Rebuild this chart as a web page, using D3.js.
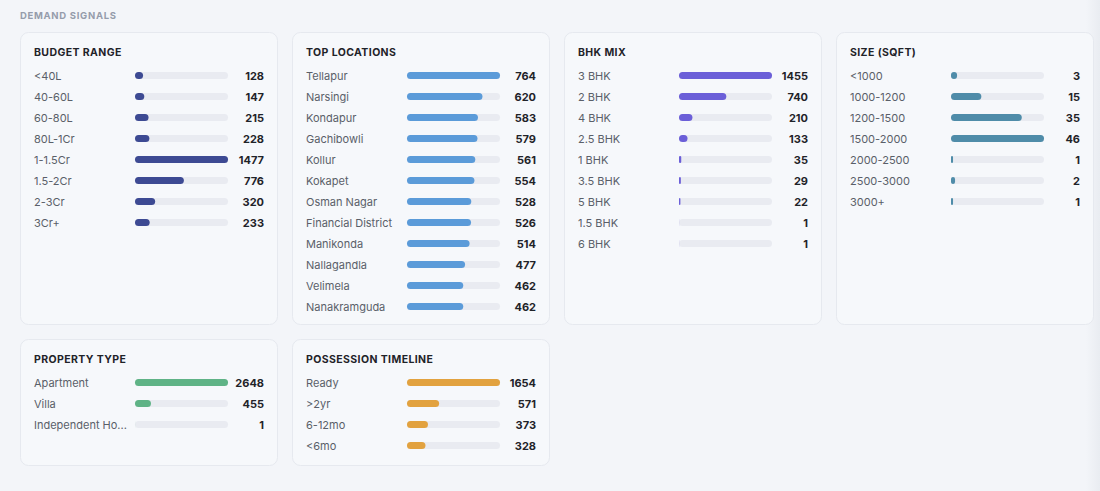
<!DOCTYPE html>
<html><head><meta charset="utf-8">
<script src="https://cdn.jsdelivr.net/npm/d3@7"></script>
<style>
html,body{margin:0;padding:0;background:#f3f5f9;}
svg{display:block;font-family:Inter,"Noto Sans",sans-serif;}
</style></head>
<body><svg id="c" width="1100" height="491"></svg>
<script>
const budgetLabels = ["<40L","40-60L","60-80L","80L-1Cr","1-1.5Cr","1.5-2Cr","2-3Cr","3Cr+"];
const budgetValues = [128,147,215,228,1477,776,320,233];
const locationLabels = ["Tellapur","Narsingi","Kondapur","Gachibowli","Kollur","Kokapet","Osman Nagar","Financial District","Manikonda","Nallagandla","Velimela","Nanakramguda"];
const locationValues = [764,620,583,579,561,554,528,526,514,477,462,462];
const bhkLabels = ["3 BHK","2 BHK","4 BHK","2.5 BHK","1 BHK","3.5 BHK","5 BHK","1.5 BHK","6 BHK"];
const bhkValues = [1455,740,210,133,35,29,22,1,1];
const sizeLabels = ["<1000","1000-1200","1200-1500","1500-2000","2000-2500","2500-3000","3000+"];
const sizeValues = [3,15,35,46,1,2,1];
const propertyLabels = ["Apartment","Villa","Independent House"];
const propertyValues = [2648,455,1];
const possessionLabels = ["Ready",">2yr","6-12mo","<6mo"];
const possessionValues = [1654,571,373,328];

const panels = [
  {title:"BUDGET RANGE", labels:budgetLabels, values:budgetValues, color:"#3d4a93", col:0, row:0},
  {title:"TOP LOCATIONS", labels:locationLabels, values:locationValues, color:"#5b9bd9", col:1, row:0},
  {title:"BHK MIX", labels:bhkLabels, values:bhkValues, color:"#6b5fd8", col:2, row:0},
  {title:"SIZE (SQFT)", labels:sizeLabels, values:sizeValues, color:"#4f8ca9", col:3, row:0},
  {title:"PROPERTY TYPE", labels:propertyLabels, values:propertyValues, color:"#5fb386", col:0, row:1},
  {title:"POSSESSION TIMELINE", labels:possessionLabels, values:possessionValues, color:"#e2a23f", col:1, row:1}
];

const svg = d3.select("#c");
const defs = svg.append("defs");
const g = defs.append("linearGradient").attr("id","edge").attr("x1","0").attr("x2","1");
g.append("stop").attr("offset","0").attr("stop-color","#f3f5f9");
g.append("stop").attr("offset","1").attr("stop-color","#e9ecf1");
svg.append("rect").attr("x",1086).attr("y",0).attr("width",14).attr("height",491).attr("fill","url(#edge)");

svg.append("text").attr("x",20).attr("y",18.5).text("DEMAND SIGNALS")
  .attr("font-size",9.5).attr("font-weight",700).attr("letter-spacing",0.7).attr("fill","#959cab");

const cardX = d3.scaleLinear().domain([0,1]).range([20,292]);
const cardY = [32,339];
const cardH = [293,127];
const cardW = 258;
const step = 21;

panels.forEach(p=>{
  const x0 = cardX(p.col), y0 = cardY[p.row];
  const card = svg.append("g").attr("transform",`translate(${x0},${y0})`);
  card.append("rect").attr("x",0.5).attr("y",0.5).attr("width",cardW-1).attr("height",cardH[p.row]-1)
    .attr("rx",8).attr("fill","#f6f8fb").attr("stroke","#e6e9ef");
  card.append("text").attr("x",14).attr("y",23.5).text(p.title)
    .attr("font-size",10.5).attr("font-weight",700).attr("letter-spacing",0.4).attr("fill","#1f2329");
  const y = d3.scaleLinear().domain([0,1]).range([43.5,43.5+step]);
  const x = d3.scaleLinear().domain([0,d3.max(p.values)]).range([0,93]);
  const rows = card.selectAll("g.r").data(p.labels.map((l,i)=>({l,v:p.values[i],i})))
    .join("g").attr("class","r").attr("transform",d=>`translate(0,${y(d.i)})`);
  rows.append("text").attr("x",14).attr("y",4).text(d=>d.l)
    .attr("font-size",11).attr("fill","#5a5f69")
    .each(function(d){
      const el=this; const maxW=94;
      if(el.getComputedTextLength()>maxW){
        let s=d.l;
        while(s.length>1){ s=s.slice(0,-1); el.textContent=s.trimEnd()+"..."; if(el.getComputedTextLength()<=maxW) break; }
      }
    });
  rows.append("rect").attr("x",115).attr("y",-3.5).attr("width",93).attr("height",7).attr("rx",3.5).attr("fill","#e9ebf1");
  rows.append("rect").attr("x",115).attr("y",-3.5).attr("width",d=>x(d.v)).attr("height",7)
    .attr("rx",d=>Math.min(3.5,x(d.v)/2)).attr("fill",p.color);
  rows.append("text").attr("x",244).attr("y",4).attr("text-anchor","end").text(d=>d.v)
    .attr("font-size",11).attr("font-weight",700).attr("fill","#1f2329");
});
</script></body></html>
